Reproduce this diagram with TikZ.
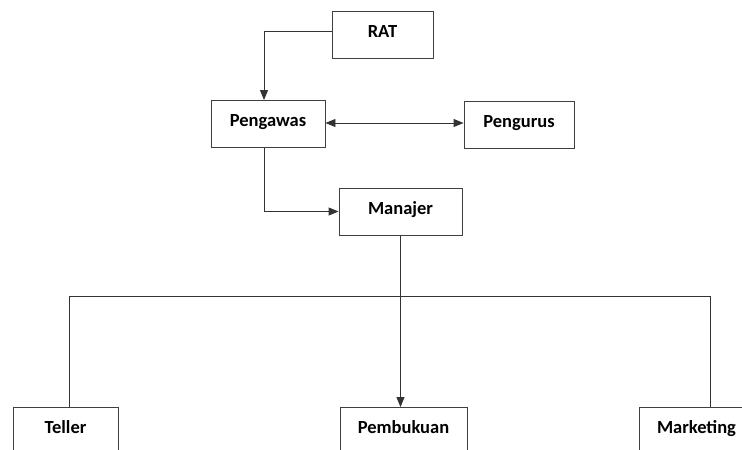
\documentclass[tikz,border=0pt]{standalone}
\usepackage{fontspec}
\setmainfont{Carlito}[BoldFont={Carlito Bold}]
\usepackage{tikz}
\usetikzlibrary{arrows.meta}
\tikzset{
  kotak/.style={draw=black!75, line width=0.9pt, minimum height=47, inner sep=0pt,
    text height=13pt, text depth=8pt, font=\fontsize{18.5}{20}\selectfont\bfseries},
  garis/.style={draw=black!80, line width=0.9pt},
  panah/.style={garis, -{Triangle[length=10pt,width=8pt]}},
  panahdua/.style={garis, {Triangle[length=10pt,width=8pt]}-{Triangle[length=10pt,width=8pt]}}
}
\begin{document}
\begin{tikzpicture}[x=1pt,y=-1pt]
\useasboundingbox (0,0) rectangle (742,450);
\clip (0,0) rectangle (742,450);
% row 1 and 2 of boxes
\node[kotak, minimum width=101] (rat) at (382.5,35) {RAT};
\node[kotak, minimum width=114] (pengawas) at (268,124) {Pengawas};
\node[kotak, minimum width=110] (pengurus) at (519,124.5) {Pengurus};
% row 3
\node[kotak, minimum width=123] (manajer) at (400.5,211.5) {Manajer};
% row 4, cut at the bottom
\node[kotak, minimum width=105] (teller) at (65.5,431) {Teller};
\node[kotak, minimum width=127] (pembukuan) at (403.5,431) {Pembukuan};
\node[kotak, minimum width=115] (marketing) at (696.5,431) {Marketing};
\coordinate (bus) at ([yshift=-61pt]manajer.south);
% connectors
\draw[panah] ([yshift=4pt]rat.west) -| ([xshift=-4pt]pengawas.north);
\draw[panahdua] ([yshift=1pt]pengawas.east) -- ([yshift=1pt]pengawas.east -| pengurus.west);
\draw[panah] ([xshift=-4pt]pengawas.south) |- (manajer.west);
\draw[panah] (manajer.south) -- (manajer.south |- pembukuan.north);
\draw[garis] ([xshift=4pt]teller.north) |- (bus) -| ([xshift=13.5pt]marketing.north);
\end{tikzpicture}
\end{document}
